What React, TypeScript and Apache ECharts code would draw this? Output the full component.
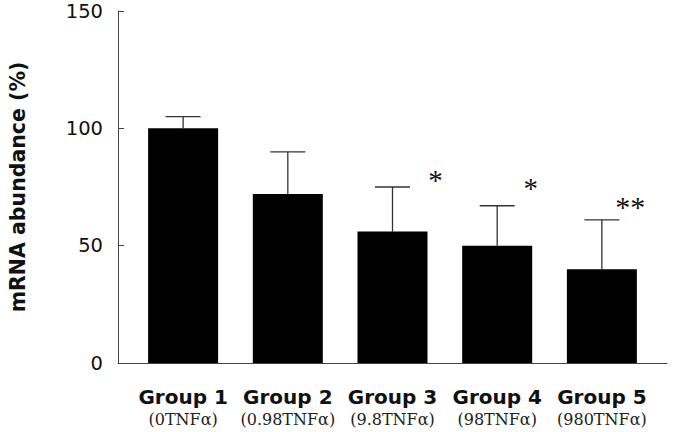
import React, { useEffect, useRef } from "react";
import * as echarts from "echarts";

const groups = ["Group 1", "Group 2", "Group 3", "Group 4", "Group 5"];
const doses = ["(0TNFα)", "(0.98TNFα)", "(9.8TNFα)", "(98TNFα)", "(980TNFα)"];
const means = [100, 72, 56, 50, 40];
const errTops = [105, 90, 75, 67, 61];
const yTicks = [0, 50, 100, 150];

// significance marks: x position (in group units), y value, text
const starX = [2.41, 3.32, 4.27];
const starY = [80, 76.5, 69];
const starText = ["*", "*", "**"];

export default function App() {
  const ref = useRef<HTMLDivElement>(null);
  useEffect(() => {
    if (!ref.current) return;
    const chart = echarts.init(ref.current, undefined, { renderer: "svg" });
    const idx = groups.map((_, i) => i);
    chart.setOption({
      animation: false,
      backgroundColor: "#ffffff",
      grid: {
        left: 118,
        right: 7,
        top: 11,
        bottom: 69,
        containLabel: false,
        outerBoundsMode: "none",
      },
      xAxis: {
        type: "value",
        min: -0.622,
        max: 4.622,
        splitLine: { show: false },
        axisLine: { show: true, onZero: false, lineStyle: { color: "#444", width: 1 } },
        axisTick: { show: false },
        axisLabel: {
          customValues: idx,
          margin: 20,
          formatter: (v: number) => {
            const i = Math.round(v);
            return `{g|${groups[i]}}\n{d|${doses[i]}}`;
          },
          rich: {
            g: {
              fontFamily: "DejaVu Sans",
              fontWeight: "bold",
              fontSize: 20,
              lineHeight: 27,
              color: "#111",
            },
            d: {
              fontFamily: "DejaVu Serif",
              fontSize: 16,
              lineHeight: 18,
              color: "#222",
            },
          },
        },
      },
      yAxis: {
        type: "value",
        min: yTicks[0],
        max: yTicks[yTicks.length - 1],
        interval: 50,
        name: "mRNA abundance (%)",
        nameLocation: "middle",
        nameGap: 90,
        nameTextStyle: {
          fontFamily: "DejaVu Sans",
          fontWeight: "bold",
          fontSize: 20.5,
          color: "#111",
        },
        splitLine: { show: false },
        axisLine: { show: true, onZero: false, lineStyle: { color: "#444", width: 1 } },
        axisTick: { show: true, inside: true, length: 6, lineStyle: { color: "#444" } },
        axisLabel: {
          margin: 15,
          fontFamily: "DejaVu Sans",
          fontSize: 19.5,
          color: "#111",
        },
      },
      series: [
        {
          type: "bar",
          data: means.map((m, i) => [i, m]),
          barWidth: 70,
          itemStyle: { color: "#000" },
          z: 2,
        },
        {
          type: "custom",
          data: means.map((m, i) => [i, m, errTops[i]]),
          z: 1,
          renderItem: (params: any, api: any) => {
            const x = api.value(0);
            const base = api.coord([x, api.value(1)]);
            const top = api.coord([x, api.value(2)]);
            const half = 17.5;
            const style = { stroke: "#333", lineWidth: 1.3 };
            return {
              type: "group",
              children: [
                { type: "line", shape: { x1: base[0], y1: base[1], x2: top[0], y2: top[1] }, style },
                { type: "line", shape: { x1: top[0] - half, y1: top[1], x2: top[0] + half, y2: top[1] }, style },
              ],
            };
          },
        },
        {
          type: "custom",
          data: starX.map((x, i) => [x, starY[i]]),
          z: 3,
          renderItem: (params: any, api: any) => {
            const p = api.coord([api.value(0), api.value(1)]);
            const multi = starText[params.dataIndex].length > 1;
            return {
              type: "text",
              x: p[0],
              y: p[1] + 5,
              style: {
                text: starText[params.dataIndex],
                fontFamily: "Liberation Serif",
                fontSize: multi ? 30 : 29,
                fill: "#111",
                align: "center",
                verticalAlign: "middle",
              },
            };
          },
        },
      ],
    });
    return () => chart.dispose();
  }, []);
  return <div ref={ref} style={{ width: 674, height: 432, position: "absolute", left: 0, top: 0 }} />;
}
